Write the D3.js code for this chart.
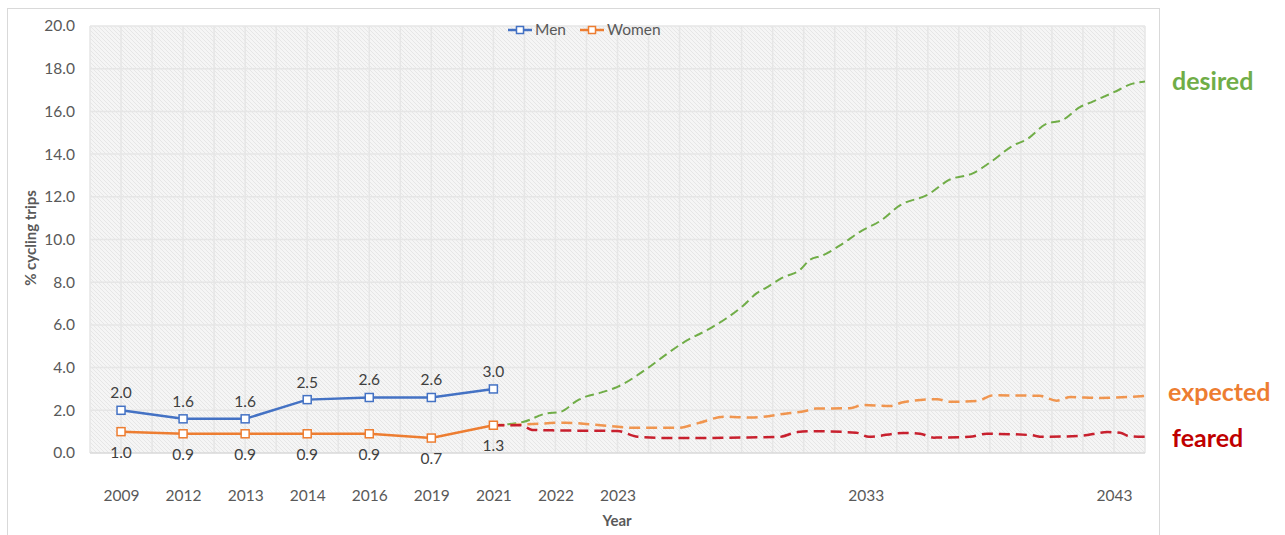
<!DOCTYPE html>
<html>
<head>
<meta charset="utf-8">
<script src="https://cdn.jsdelivr.net/npm/d3@7"></script>
<style>
  body { margin: 0; background: #fff; }
  text { font-family: Lato, "Open Sans", sans-serif; }
</style>
</head>
<body>
<div id="chart"></div>
<script>
// category labels on the x axis and the slot each one sits on
var xLabels = ["2009", "2012", "2013", "2014", "2016", "2019", "2021", "2022", "2023", "2033", "2043"];
var xSlots = [1, 3, 5, 7, 9, 11, 13, 15, 17, 25, 33];

var yTicks = [0, 2, 4, 6, 8, 10, 12, 14, 16, 18, 20];

var men = [2.0, 1.6, 1.6, 2.5, 2.6, 2.6, 3.0];
var women = [1.0, 0.9, 0.9, 0.9, 0.9, 0.7, 1.3];

// projected scenarios (hand drawn in the original), slot / value pairs
var desiredX = [13, 13.95, 14.7, 15.15, 15.7, 16.0, 16.4, 17.0, 17.95, 18.6, 19.1, 20.0, 20.5, 21.05, 21.5, 21.8, 22.3, 22.9, 23.2, 23.6, 24.2, 24.8, 25.5, 26.1, 27.0, 27.7, 28.45, 29.0, 29.75, 30.2, 30.8, 31.35, 31.9, 32.3, 33.0, 33.6, 34.0];
var desiredY = [1.3, 1.45, 1.85, 1.92, 2.45, 2.65, 2.8, 3.1, 3.95, 4.65, 5.15, 5.85, 6.3, 6.9, 7.5, 7.75, 8.2, 8.6, 9.05, 9.25, 9.75, 10.35, 10.9, 11.6, 12.1, 12.8, 13.1, 13.6, 14.4, 14.7, 15.4, 15.6, 16.2, 16.45, 16.9, 17.3, 17.4];

var expectedX = [13, 13.9, 15.3, 16.3, 17.55, 18.95, 19.6, 20.45, 21.3, 22.4, 23.05, 23.4, 24.5, 24.9, 25.8, 26.2, 27.3, 27.7, 28.6, 29.1, 30.6, 31.15, 31.6, 32.5, 34.0];
var expectedY = [1.3, 1.33, 1.42, 1.32, 1.18, 1.18, 1.4, 1.7, 1.66, 1.84, 1.97, 2.08, 2.1, 2.25, 2.2, 2.38, 2.52, 2.4, 2.44, 2.7, 2.68, 2.45, 2.62, 2.58, 2.67];

var fearedX = [13, 13.9, 14.25, 14.9, 17.0, 17.65, 18.75, 22.2, 22.8, 23.35, 24.7, 25.1, 26.2, 26.75, 27.2, 28.35, 28.9, 30.3, 30.7, 31.9, 32.8, 33.2, 33.5, 34.0];
var fearedY = [1.3, 1.3, 1.08, 1.06, 1.03, 0.76, 0.7, 0.75, 0.98, 1.02, 0.95, 0.76, 0.94, 0.9, 0.72, 0.76, 0.9, 0.84, 0.76, 0.8, 0.98, 0.95, 0.78, 0.76];

var width = 1285, height = 535;
var plot = {left: 90, right: 1145, top: 26, bottom: 453};

var svg = d3.select("#chart")
  .append("svg")
  .attr("width", width)
  .attr("height", height);

// chart frame
svg.append("rect")
  .attr("x", 7.5)
  .attr("y", 8.5)
  .attr("width", 1152)
  .attr("height", 540)
  .attr("fill", "white")
  .attr("stroke", "#d9d9d9")
  .attr("stroke-width", 1);

var x = d3.scaleLinear().domain([0, 34]).range([plot.left, plot.right]);
var y = d3.scaleLinear().domain([0, 20]).range([plot.bottom, plot.top]);

// hatched plot background
var defs = svg.append("defs");
var pat = defs.append("pattern")
  .attr("id", "hatch")
  .attr("patternUnits", "userSpaceOnUse")
  .attr("width", 4)
  .attr("height", 4);
pat.append("rect").attr("width", 4).attr("height", 4).attr("fill", "#f5f5f5");
pat.append("path")
  .attr("d", "M-1,-1 L5,5 M-1,3 L1,5 M3,-1 L5,1")
  .attr("stroke", "#e6e6e6")
  .attr("stroke-width", 1);

svg.append("rect")
  .attr("x", plot.left)
  .attr("y", plot.top)
  .attr("width", plot.right - plot.left)
  .attr("height", plot.bottom - plot.top)
  .attr("fill", "url(#hatch)");

// grid
var grid = svg.append("g");
grid.selectAll(".vg")
  .data(d3.range(0, 35))
  .enter()
  .append("line")
  .attr("x1", function(d) { return x(d); })
  .attr("x2", function(d) { return x(d); })
  .attr("y1", plot.top)
  .attr("y2", plot.bottom)
  .attr("stroke", "#e6e6e6")
  .attr("stroke-width", 1.5);
grid.selectAll(".hg")
  .data(yTicks)
  .enter()
  .append("line")
  .attr("x1", plot.left)
  .attr("x2", plot.right)
  .attr("y1", function(d) { return y(d); })
  .attr("y2", function(d) { return y(d); })
  .attr("stroke", function(d) { return d === 0 ? "#d9d9d9" : "#e6e6e6"; })
  .attr("stroke-width", 1.5);

// axes
var yAxis = svg.append("g")
  .attr("transform", "translate(" + plot.left + ",0)")
  .call(d3.axisLeft(y).tickValues(yTicks).tickFormat(d3.format(".1f")).tickSize(0).tickPadding(15));
yAxis.select(".domain").remove();
yAxis.selectAll("text").attr("font-size", 15.5).attr("fill", "#595959")
  .style("font-family", "Lato, sans-serif");

var xAxis = svg.append("g")
  .attr("transform", "translate(0," + plot.bottom + ")")
  .call(d3.axisBottom(x).tickValues(xSlots).tickFormat(function(d, i) { return xLabels[i]; }).tickSize(0).tickPadding(37));
xAxis.select(".domain").remove();
xAxis.selectAll("text").attr("font-size", 15.5).attr("fill", "#595959")
  .style("font-family", "Lato, sans-serif");

svg.append("text")
  .attr("transform", "translate(36,238) rotate(-90)")
  .attr("text-anchor", "middle")
  .attr("font-size", 15)
  .attr("font-weight", "bold")
  .attr("fill", "#595959")
  .text("% cycling trips");

svg.append("text")
  .attr("x", 617)
  .attr("y", 526)
  .attr("text-anchor", "middle")
  .attr("font-size", 15)
  .attr("font-weight", "bold")
  .attr("fill", "#595959")
  .text("Year");

// projections
function scenario(xs, ys, color, dash, w) {
  var pts = xs.map(function(d, i) { return [d, ys[i]]; });
  var line = d3.line()
    .x(function(d) { return x(d[0]); })
    .y(function(d) { return y(d[1]); })
    .curve(d3.curveMonotoneX);
  svg.append("path")
    .datum(pts)
    .attr("d", line)
    .attr("fill", "none")
    .attr("stroke", color)
    .attr("stroke-width", w)
    .attr("stroke-dasharray", dash);
}
scenario(desiredX, desiredY, "#70ad47", "9,5", 2);
scenario(expectedX, expectedY, "#f0954f", "11,6", 2.5);
scenario(fearedX, fearedY, "#c8202e", "11,6", 2.5);

// observed series
var obsX = xSlots.slice(0, 7);
function series(vals, color, above) {
  var pts = vals.map(function(d, i) { return [obsX[i], d]; });
  var line = d3.line()
    .x(function(d) { return x(d[0]); })
    .y(function(d) { return y(d[1]); });
  svg.append("path")
    .datum(pts)
    .attr("d", line)
    .attr("fill", "none")
    .attr("stroke", color)
    .attr("stroke-width", 2.5);
  svg.selectAll(null)
    .data(pts)
    .enter()
    .append("rect")
    .attr("x", function(d) { return x(d[0]) - 4; })
    .attr("y", function(d) { return y(d[1]) - 4; })
    .attr("width", 8)
    .attr("height", 8)
    .attr("fill", "white")
    .attr("stroke", color)
    .attr("stroke-width", 1.5);
  svg.selectAll(null)
    .data(pts)
    .enter()
    .append("text")
    .attr("x", function(d) { return x(d[0]); })
    .attr("y", function(d) { return y(d[1]) + (above ? -12 : 26); })
    .attr("text-anchor", "middle")
    .attr("font-size", 15.5)
    .attr("fill", "#404040")
    .text(function(d) { return d[1].toFixed(1); });
}
series(men, "#4472c4", true);
series(women, "#ed7d31", false);

// legend
var legend = [["Men", "#4472c4", 508], ["Women", "#ed7d31", 580]];
legend.forEach(function(l) {
  svg.append("line")
    .attr("x1", l[2]).attr("x2", l[2] + 24)
    .attr("y1", 30).attr("y2", 30)
    .attr("stroke", l[1]).attr("stroke-width", 2.5);
  svg.append("rect")
    .attr("x", l[2] + 8.5).attr("y", 26.5)
    .attr("width", 7).attr("height", 7)
    .attr("fill", "white").attr("stroke", l[1]).attr("stroke-width", 1.5);
  svg.append("text")
    .attr("x", l[2] + 27).attr("y", 35)
    .attr("font-size", 15.5).attr("fill", "#595959")
    .text(l[0]);
});

// scenario labels
var tags = [["desired", "#70ad47", 1172, 90], ["expected", "#ed7d31", 1168, 401], ["feared", "#c00000", 1172, 447]];
tags.forEach(function(t) {
  svg.append("text")
    .attr("x", t[2]).attr("y", t[3])
    .attr("font-size", 25)
    .attr("font-weight", "bold")
    .attr("fill", t[1])
    .text(t[0]);
});
</script>
</body>
</html>
